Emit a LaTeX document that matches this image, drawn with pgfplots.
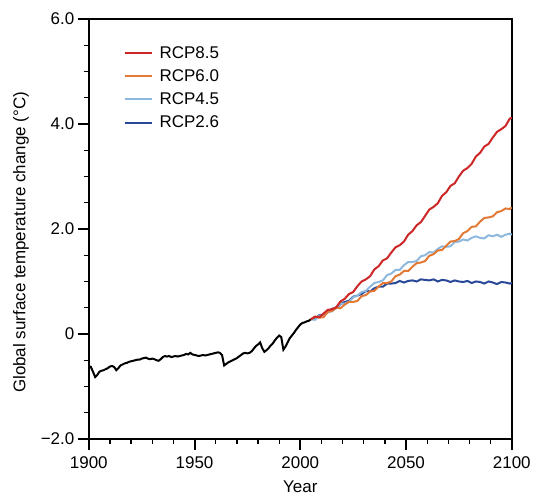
\documentclass[border=0pt]{standalone}
\usepackage{fontspec}
\setmainfont{Liberation Sans}
\usepackage{pgfplots}
\pgfplotsset{compat=1.18}

\definecolor{rcpred}{RGB}{205,38,38}
\definecolor{rcporange}{RGB}{226,122,54}
\definecolor{rcplight}{RGB}{142,185,222}
\definecolor{rcpdark}{RGB}{42,72,152}

\begin{document}
\begin{tikzpicture}[font=\fontsize{17bp}{20bp}\selectfont]
\begin{axis}[
    scale only axis,
    width=424bp, height=421bp,
    xmin=1900, xmax=2100,
    ymin=-2, ymax=6,
    xtick={1900,1950,2000,2050,2100},
    xticklabels={1900,1950,2000,2050,2100},
    ytick={-2,0,2,4,6},
    yticklabels={−2.0,0,2.0,4.0,6.0},
    minor x tick num=4,
    minor y tick num=3,
    tick align=outside,
    xtick pos=bottom, ytick pos=left,
    major tick length=11bp, minor tick length=5bp,
    every major tick/.append style={line width=2bp, black},
    every minor tick/.append style={line width=1.3bp, black},
    axis line style={line width=1.8bp},
    x tick label style={yshift=-3bp},
    xlabel={Year},
    xlabel style={yshift=-6bp},
    ylabel={Global surface temperature change (°C)},
    ylabel style={at={(ticklabel cs:0.468)}, yshift=5bp},
    legend cell align=left,
    legend style={draw=none, fill=none, at={(0.075,0.945)}, anchor=north west,
        row sep=6bp, /tikz/every odd column/.append style={column sep=5bp}},
    legend image code/.code={\draw[#1] (0bp,0bp) -- (27bp,0bp);},
    reverse legend,
]
% observed record
\addplot[black, line width=2bp, forget plot] coordinates {
(1900,-0.61) (1901,-0.63) (1902,-0.72) (1903,-0.82) (1904,-0.78) (1905,-0.72)
(1906,-0.70) (1907,-0.69) (1908,-0.67) (1909,-0.65) (1910,-0.62) (1911,-0.61)
(1912,-0.63) (1913,-0.69) (1914,-0.65) (1915,-0.60) (1916,-0.58) (1917,-0.56)
(1918,-0.55) (1919,-0.53) (1920,-0.52) (1921,-0.51) (1922,-0.50) (1923,-0.49)
(1924,-0.49) (1925,-0.47) (1926,-0.46) (1927,-0.45) (1928,-0.47) (1929,-0.48)
(1930,-0.47) (1931,-0.48) (1932,-0.50) (1933,-0.51) (1934,-0.48) (1935,-0.44)
(1936,-0.42) (1937,-0.43) (1938,-0.42) (1939,-0.44) (1940,-0.43) (1941,-0.42)
(1942,-0.43) (1943,-0.42) (1944,-0.41) (1945,-0.40) (1946,-0.38) (1947,-0.39)
(1948,-0.36) (1949,-0.39) (1950,-0.40) (1951,-0.41) (1952,-0.42) (1953,-0.41)
(1954,-0.40) (1955,-0.41) (1956,-0.40) (1957,-0.39) (1958,-0.38) (1959,-0.37)
(1960,-0.36) (1961,-0.35) (1962,-0.36) (1963,-0.40) (1964,-0.60) (1965,-0.57)
(1966,-0.54) (1967,-0.52) (1968,-0.50) (1969,-0.48) (1970,-0.46) (1971,-0.43)
(1972,-0.40) (1973,-0.37) (1974,-0.36) (1975,-0.37) (1976,-0.36) (1977,-0.33)
(1978,-0.28) (1979,-0.23) (1980,-0.20) (1981,-0.16) (1982,-0.27) (1983,-0.34)
(1984,-0.31) (1985,-0.27) (1986,-0.22) (1987,-0.18) (1988,-0.12) (1989,-0.07)
(1990,-0.03) (1991,-0.06) (1992,-0.30) (1993,-0.24) (1994,-0.16) (1995,-0.08)
(1996,-0.03) (1997,0.02) (1998,0.08) (1999,0.13) (2000,0.18) (2001,0.21)
(2002,0.22) (2003,0.24) (2004,0.25) (2005,0.28)
};
% RCP2.6
\addplot[rcpdark, line width=2bp] coordinates {
(2005,0.28) (2007,0.29) (2009,0.36) (2011,0.37) (2013,0.41) (2015,0.48)
(2017,0.49) (2019,0.57) (2021,0.61) (2023,0.63) (2025,0.71) (2027,0.73)
(2029,0.76) (2031,0.82) (2033,0.81) (2035,0.87) (2037,0.90) (2039,0.90)
(2041,0.96) (2043,0.96) (2045,0.97) (2047,1.01) (2049,0.98) (2051,1.01)
(2053,1.02) (2055,1.00) (2057,1.04) (2059,1.03) (2061,1.02) (2063,1.04)
(2065,1.00) (2067,1.03) (2069,1.02) (2071,0.99) (2073,1.02) (2075,1.00)
(2077,0.99) (2079,1.01) (2081,0.97) (2083,1.00) (2085,0.99) (2087,0.96)
(2089,1.00) (2091,0.98) (2093,0.95) (2095,0.99) (2097,0.98) (2099,0.96)
(2100,0.97)
};
\addlegendentry{RCP2.6}
% RCP4.5
\addplot[rcplight, line width=2bp] coordinates {
(2005,0.28) (2007,0.27) (2009,0.35) (2011,0.36) (2013,0.42) (2015,0.43)
(2017,0.51) (2019,0.58) (2021,0.58) (2023,0.61) (2025,0.70) (2027,0.73)
(2029,0.80) (2031,0.82) (2033,0.90) (2035,0.97) (2037,0.99) (2039,1.02)
(2041,1.12) (2043,1.15) (2045,1.22) (2047,1.22) (2049,1.31) (2051,1.37)
(2053,1.37) (2055,1.39) (2057,1.48) (2059,1.50) (2061,1.56) (2063,1.55)
(2065,1.62) (2067,1.67) (2069,1.66) (2071,1.67) (2073,1.75) (2075,1.76)
(2077,1.80) (2079,1.78) (2081,1.83) (2083,1.86) (2085,1.83) (2087,1.82)
(2089,1.88) (2091,1.86) (2093,1.89) (2095,1.85) (2097,1.89) (2099,1.91)
(2100,1.89)
};
\addlegendentry{RCP4.5}
% RCP6.0
\addplot[rcporange, line width=2bp] coordinates {
(2005,0.28) (2007,0.33) (2009,0.31) (2011,0.32) (2013,0.42) (2015,0.44)
(2017,0.50) (2019,0.49) (2021,0.56) (2023,0.61) (2025,0.61) (2027,0.63)
(2029,0.72) (2031,0.74) (2033,0.81) (2035,0.82) (2037,0.90) (2039,0.97)
(2041,0.97) (2043,1.00) (2045,1.10) (2047,1.13) (2049,1.20) (2051,1.20)
(2053,1.28) (2055,1.35) (2057,1.36) (2059,1.39) (2061,1.49) (2063,1.52)
(2065,1.59) (2067,1.60) (2069,1.68) (2071,1.76) (2073,1.77) (2075,1.81)
(2077,1.92) (2079,1.96) (2081,2.04) (2083,2.05) (2085,2.14) (2087,2.21)
(2089,2.22) (2091,2.24) (2093,2.32) (2095,2.34) (2097,2.39) (2099,2.38)
(2100,2.41)
};
\addlegendentry{RCP6.0}
% RCP8.5
\addplot[rcpred, line width=2bp] coordinates {
(2005,0.28) (2007,0.33) (2009,0.32) (2011,0.39) (2013,0.46) (2015,0.47)
(2017,0.51) (2019,0.62) (2021,0.67) (2023,0.76) (2025,0.80) (2027,0.91)
(2029,1.00) (2031,1.04) (2033,1.10) (2035,1.23) (2037,1.29) (2039,1.40)
(2041,1.44) (2043,1.55) (2045,1.65) (2047,1.69) (2049,1.76) (2051,1.89)
(2053,1.96) (2055,2.07) (2057,2.13) (2059,2.25) (2061,2.37) (2063,2.42)
(2065,2.49) (2067,2.63) (2069,2.70) (2071,2.82) (2073,2.87) (2075,3.00)
(2077,3.11) (2079,3.16) (2081,3.24) (2083,3.38) (2085,3.45) (2087,3.57)
(2089,3.62) (2091,3.74) (2093,3.85) (2095,3.90) (2097,3.96) (2099,4.10)
(2100,4.12)
};
\addlegendentry{RCP8.5}
\end{axis}
\path ([shift={(-89bp,-57bp)}]current axis.south west) rectangle ([shift={(21bp,19bp)}]current axis.north east);
\end{tikzpicture}
\end{document}
